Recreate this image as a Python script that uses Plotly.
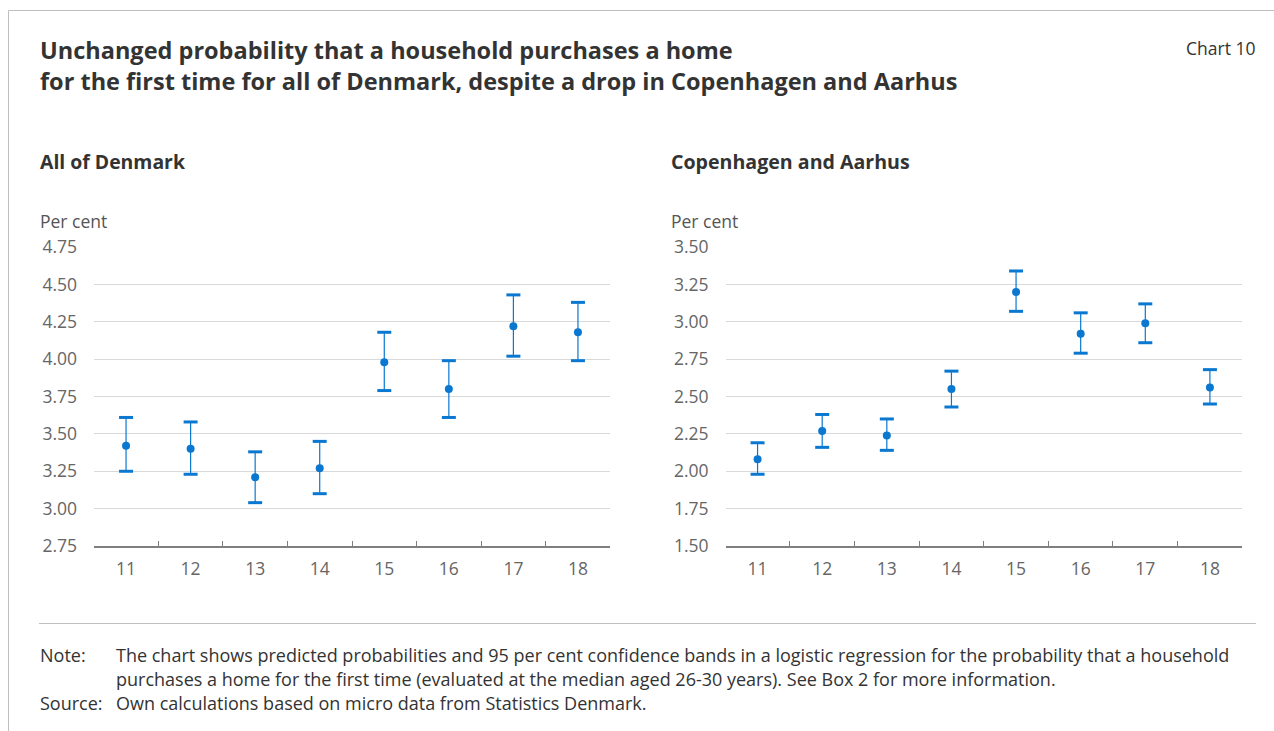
import plotly.graph_objects as go

years = ["11", "12", "13", "14", "15", "16", "17", "18"]

dk_point = [3.42, 3.40, 3.21, 3.27, 3.98, 3.80, 4.22, 4.18]
dk_upper = [3.61, 3.58, 3.38, 3.45, 4.18, 3.99, 4.43, 4.38]
dk_lower = [3.25, 3.23, 3.04, 3.10, 3.79, 3.61, 4.02, 3.99]

cph_point = [2.08, 2.27, 2.24, 2.55, 3.20, 2.92, 2.99, 2.56]
cph_upper = [2.19, 2.38, 2.35, 2.67, 3.34, 3.06, 3.12, 2.68]
cph_lower = [1.98, 2.16, 2.14, 2.43, 3.07, 2.79, 2.86, 2.45]

dk_ticks = [2.75, 3.00, 3.25, 3.50, 3.75, 4.00, 4.25, 4.50, 4.75]
cph_ticks = [1.50, 1.75, 2.00, 2.25, 2.50, 2.75, 3.00, 3.25, 3.50]

BLUE = "#0a78d0"
W, H = 1274, 731
FONT = "Open Sans"

fig = go.Figure()

def add_panel(point, upper, lower, xa, ya):
    plus = [u - p for u, p in zip(upper, point)]
    minus = [p - l for p, l in zip(point, lower)]
    fig.add_trace(go.Scatter(
        x=years, y=point, mode="markers", xaxis=xa, yaxis=ya,
        marker=dict(color=BLUE, size=8),
        error_y=dict(type="data", array=plus, arrayminus=minus,
                     color=BLUE, thickness=1.2, width=0),
        showlegend=False, hoverinfo="y"))
    fig.add_trace(go.Scatter(
        x=years + years, y=upper + lower, mode="markers", xaxis=xa, yaxis=ya,
        marker=dict(symbol="line-ew", size=10, line=dict(color=BLUE, width=3)),
        showlegend=False, hoverinfo="skip"))

add_panel(dk_point, dk_upper, dk_lower, "x", "y")
add_panel(cph_point, cph_upper, cph_lower, "x2", "y2")

ydom = [(H - 546) / H, (H - 247) / H]
xcommon = dict(
    type="category", showgrid=False, showline=True, linecolor="#7f7f7f",
    linewidth=1.5, ticks="inside", tickson="boundaries", ticklen=5,
    tickcolor="#7f7f7f", tickfont=dict(family=FONT, size=17.5, color="#666666"),
    ticklabelstandoff=6, zeroline=False, fixedrange=True, automargin=False)
ycommon = dict(
    showgrid=True, gridcolor="#d9d9d9", gridwidth=1, showline=False,
    zeroline=False, ticks="", tickfont=dict(family=FONT, size=17.5, color="#666666"),
    ticklabelstandoff=16, fixedrange=True, automargin=False)

fig.update_layout(
    width=W, height=H, autosize=False,
    margin=dict(l=0, r=0, t=0, b=0, pad=0, autoexpand=False),
    paper_bgcolor="white", plot_bgcolor="white",
    font=dict(family=FONT, color="#333333"),
    xaxis=dict(domain=[94 / W, 610 / W], anchor="y", **xcommon),
    yaxis=dict(domain=ydom, anchor="x", range=[2.75, 4.7505],
               tickvals=dk_ticks, ticktext=[f"{v:.2f}" for v in dk_ticks], **ycommon),
    xaxis2=dict(domain=[725.5 / W, 1242 / W], anchor="y2", **xcommon),
    yaxis2=dict(domain=ydom, anchor="x2", range=[1.50, 3.5005],
                tickvals=cph_ticks, ticktext=[f"{v:.2f}" for v in cph_ticks], **ycommon),
)

def txt(x, y, s, size, color="#333333", bold=False, xanchor="left"):
    fig.add_annotation(
        x=x / W, y=1 - y / H, xref="paper", yref="paper", text=f"<b>{s}</b>" if bold else s,
        showarrow=False, xanchor=xanchor, yanchor="middle", align="left",
        font=dict(family=FONT, size=size, color=color))

txt(38, 65.5, "Unchanged probability that a household purchases a home<br>"
              "for the first time for all of Denmark, despite a drop in Copenhagen and Aarhus",
    23.5, bold=True)
txt(1257, 48, "Chart 10", 17.5, color="#333333", xanchor="right")
txt(38, 162, "All of Denmark", 19.4, bold=True)
txt(669, 162, "Copenhagen and Aarhus", 19.6, bold=True)
txt(38, 221, "Per cent", 17.5, color="#555555")
txt(669, 221, "Per cent", 17.5, color="#555555")

txt(38, 655, "Note:", 18)
txt(114, 655, "The chart shows predicted probabilities and 95 per cent confidence bands in a logistic regression for the probability that a household", 18)
txt(114, 679, "purchases a home for the first time (evaluated at the median aged 26-30 years). See Box 2 for more information.", 18)
txt(38, 703, "Source:", 18)
txt(114, 703, "Own calculations based on micro data from Statistics Denmark.", 18)

line = dict(color="#bfbfbf", width=1)
fig.add_shape(type="line", xref="paper", yref="paper", x0=8.5 / W, x1=8.5 / W,
              y0=0, y1=1 - 10.5 / H, line=line)
fig.add_shape(type="line", xref="paper", yref="paper", x0=8.5 / W, x1=1,
              y0=1 - 10.5 / H, y1=1 - 10.5 / H, line=line)
fig.add_shape(type="line", xref="paper", yref="paper", x0=39 / W, x1=1256 / W,
              y0=1 - 623.5 / H, y1=1 - 623.5 / H, line=line)

fig.write_html(
    "out.html", config={"displayModeBar": False},
    post_script="document.body.style.margin='0';document.documentElement.style.margin='0';"
                "document.body.style.overflow='hidden';")
